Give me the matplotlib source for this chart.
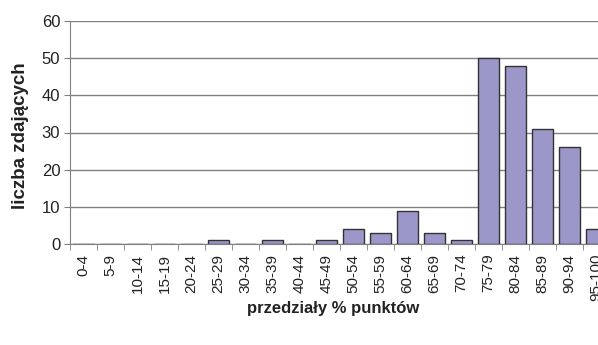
import matplotlib.pyplot as plt
import numpy as np

plt.rcParams["font.family"] = ["Liberation Sans", "DejaVu Sans"]

categories = ["0-4", "5-9", "10-14", "15-19", "20-24", "25-29", "30-34", "35-39",
              "40-44", "45-49", "50-54", "55-59", "60-64", "65-69", "70-74",
              "75-79", "80-84", "85-89", "90-94", "95-100"]
counts = [0, 0, 0, 0, 0, 1, 0, 1, 0, 1, 4, 3, 9, 3, 1, 50, 48, 31, 26, 4]
yticks = [0, 10, 20, 30, 40, 50, 60]

fig = plt.figure(figsize=(5.98, 3.45), dpi=100)
# plot area runs past the right edge of the figure, as in the original
ax = fig.add_axes([70 / 598, 1 - 244 / 345, 540 / 598, 223 / 345])

x = np.arange(len(categories))
ax.bar(x, counts, width=0.8, color="#9b97c9", edgecolor="#333333", linewidth=1.0, zorder=3)

ax.set_xlim(-0.5, len(categories) - 0.5)
ax.set_ylim(0, 60)
ax.set_yticks(yticks)
ax.yaxis.grid(True, color="#808080", linewidth=1.0, zorder=0)

ax.set_xticks(x)
ax.set_xticklabels(categories, rotation=90, fontsize=11, color="#222222")
ax.set_xticks(np.arange(len(categories) + 1) - 0.5, minor=True)
ax.tick_params(axis="x", which="major", length=0, pad=7)
ax.tick_params(axis="x", which="minor", length=4, color="#808080", direction="out")
ax.tick_params(axis="y", length=4, color="#808080", labelsize=12, labelcolor="#222222", pad=3)

for s in ["top", "right"]:
    ax.spines[s].set_visible(False)
ax.spines["left"].set_color("#808080")
ax.spines["bottom"].set_color("#808080")

fig.text(21 / 598, 1 - 136 / 345, "liczba zdających", rotation=90, ha="center", va="center",
         fontsize=13.5, fontweight="bold", color="#222222")
fig.text(333 / 598, 1 - 308 / 345, "przedziały % punktów", ha="center", va="center",
         fontsize=12, fontweight="bold", color="#222222")

fig.savefig("out.png", dpi=100)
